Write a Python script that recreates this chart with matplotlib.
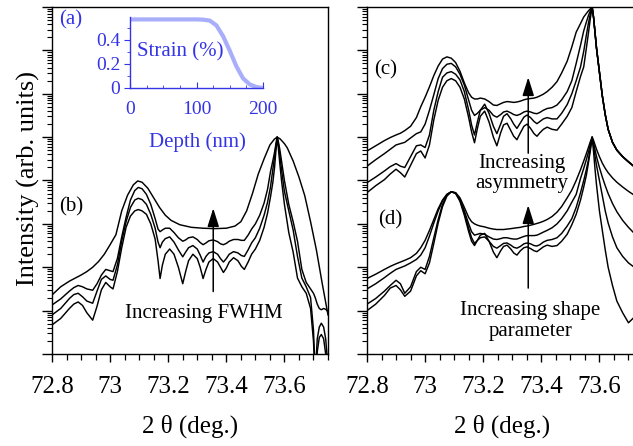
import numpy as np
import matplotlib
matplotlib.use('Agg')
import matplotlib.pyplot as plt
from matplotlib.ticker import FixedLocator, MultipleLocator, LogLocator, NullFormatter

plt.rcParams['font.family'] = ['Liberation Serif', 'DejaVu Serif']

# ---------------- data (log10 of intensity) ----------------
x_ticks = [72.8, 73.0, 73.2, 73.4, 73.6]
x_ticklabels = ['72.8', '73', '73.2', '73.4', '73.6']

# inset: strain profile
depth_nm = [0, 20, 40, 60, 80, 100, 110, 120, 130, 140, 150, 160, 170, 180, 190, 200]
strain_pct = [0.57, 0.57, 0.57, 0.57, 0.57, 0.57, 0.568, 0.56, 0.52, 0.43, 0.31, 0.18, 0.08, 0.03, 0.008, 0.0]

# panel (b): widest FWHM curve (smooth)
b1_x = [72.80, 72.83, 72.86, 72.88, 72.90, 72.92, 72.94, 72.96, 72.98, 73.00, 73.02, 73.04, 73.06,
        73.08, 73.095, 73.11, 73.13, 73.15, 73.17, 73.19, 73.21, 73.24, 73.28, 73.32, 73.36, 73.40,
        73.43, 73.45, 73.47, 73.49, 73.51, 73.53, 73.55, 73.565, 73.575, 73.585, 73.60, 73.61, 73.63,
        73.65, 73.67, 73.69, 73.71, 73.73, 73.75]
b1_log = [1.36, 1.55, 1.68, 1.75, 1.82, 1.90, 2.00, 2.13, 2.30, 2.52, 2.75, 3.30, 3.66,
          3.90, 3.99, 3.96, 3.82, 3.60, 3.38, 3.20, 3.08, 2.98, 2.92, 2.90, 2.89, 2.90,
          2.95, 3.05, 3.30, 3.70, 4.15, 4.50, 4.82, 4.95, 5.00, 4.96, 4.85, 4.75, 4.45,
          4.08, 3.65, 3.05, 2.40, 1.63, 0.90]

# panel (b): narrower FWHM curves on a shared grid
b_x = [72.80, 72.83, 72.86, 72.875, 72.89, 72.905, 72.92, 72.94, 72.955, 72.97, 72.985, 73.0, 73.01,
       73.025, 73.04, 73.055, 73.07, 73.085, 73.097, 73.11, 73.125, 73.14, 73.155, 73.165, 73.172,
       73.18, 73.19, 73.205, 73.22, 73.235, 73.25, 73.26, 73.27, 73.285, 73.30, 73.31, 73.32, 73.33,
       73.34, 73.355, 73.37, 73.38, 73.39, 73.40, 73.41, 73.425, 73.44, 73.452, 73.462, 73.475,
       73.487, 73.50, 73.515, 73.53, 73.542, 73.552, 73.56, 73.566, 73.571, 73.575, 73.579, 73.584,
       73.59, 73.60, 73.615, 73.63, 73.645, 73.66, 73.675, 73.69, 73.70, 73.706, 73.713, 73.72,
       73.727, 73.735, 73.742, 73.75]
b2_log = [1.13, 1.27, 1.45, 1.53, 1.58, 1.55, 1.50, 1.47, 1.62, 1.82, 1.95, 1.92, 1.90,
          2.20, 2.70, 3.15, 3.55, 3.77, 3.84, 3.81, 3.68, 3.45, 3.12, 2.88, 2.82,
          2.86, 2.90, 2.90, 2.80, 2.68, 2.60, 2.63, 2.68, 2.70, 2.64, 2.57, 2.52, 2.56,
          2.61, 2.63, 2.59, 2.54, 2.52, 2.55, 2.60, 2.64, 2.64, 2.62, 2.62, 2.74,
          2.88, 3.00, 3.20, 3.48, 3.80, 4.20, 4.45, 4.65, 4.85, 5.00, 4.90, 4.72,
          4.45, 4.00, 3.45, 3.05, 2.60, 1.95, 1.65, 1.50, 1.40, 1.30, 1.15, 1.05,
          1.02, 1.05, 1.03, 0.98]
b3_log = [0.90, 1.05, 1.28, 1.37, 1.40, 1.32, 1.22, 1.17, 1.45, 1.72, 1.80, 1.72, 1.70,
          2.05, 2.60, 3.05, 3.38, 3.55, 3.59, 3.56, 3.45, 3.22, 2.90, 2.58, 2.45,
          2.58, 2.66, 2.70, 2.58, 2.40, 2.24, 2.35, 2.45, 2.50, 2.42, 2.28, 2.12, 2.25,
          2.33, 2.36, 2.30, 2.20, 2.12, 2.20, 2.30, 2.36, 2.33, 2.27, 2.25, 2.40,
          2.56, 2.68, 2.90, 3.20, 3.50, 3.85, 4.25, 4.55, 4.80, 5.00, 4.85, 4.60,
          4.25, 3.75, 3.30, 2.86, 2.25, 1.75, 1.55, 1.30, 0.55, -0.50, 0.35, 0.62,
          0.71, 0.62, 0.35, -0.30]
b4_log = [0.67, 0.82, 1.05, 1.15, 1.20, 1.12, 0.95, 0.78, 1.10, 1.48, 1.65, 1.55, 1.50,
          1.90, 2.45, 2.92, 3.18, 3.30, 3.33, 3.30, 3.22, 3.00, 2.65, 2.15, 1.74,
          2.05, 2.30, 2.42, 2.30, 2.00, 1.62, 1.90, 2.15, 2.30, 2.20, 2.00, 1.74, 1.95,
          2.12, 2.20, 2.12, 2.00, 1.88, 1.98, 2.12, 2.22, 2.15, 2.02, 1.95, 2.12,
          2.30, 2.42, 2.62, 2.92, 3.25, 3.62, 3.95, 4.30, 4.70, 5.00, 4.75, 4.40,
          4.00, 3.45, 2.80, 2.35, 1.75, 1.55, 1.40, 1.05, 0.30, -0.60, 0.05, 0.38,
          0.45, 0.35, 0.00, -0.60]

# panels (c) and (d): shared grid
cd_x = [72.80, 72.83, 72.86, 72.88, 72.90, 72.915, 72.93, 72.95, 72.97, 72.985, 73.0, 73.015, 73.03,
        73.045, 73.06, 73.075, 73.09, 73.105, 73.12, 73.135, 73.15, 73.16, 73.17, 73.18, 73.19,
        73.205, 73.22, 73.235, 73.247, 73.26, 73.27, 73.282, 73.295, 73.305, 73.316, 73.328, 73.34,
        73.351, 73.363, 73.375, 73.385, 73.395, 73.407, 73.42, 73.437, 73.454, 73.47, 73.489, 73.505,
        73.52, 73.535, 73.546, 73.555, 73.562, 73.569, 73.575, 73.58, 73.585, 73.59, 73.60, 73.61,
        73.62, 73.63, 73.645, 73.66, 73.68, 73.70, 73.72, 73.75]
c_tail = [7.75, 7.40, 7.05, 6.50, 5.95, 5.52, 5.18, 4.88, 4.70, 4.55, 4.43, 4.32, 4.18]
c1_log = [4.68, 4.80, 4.92, 4.99, 5.05, 5.09, 5.15, 5.25, 5.45, 5.70, 5.92, 6.16, 6.42,
          6.64, 6.80, 6.85, 6.82, 6.72, 6.52, 6.25, 6.02, 5.92, 5.88, 5.88, 5.90,
          5.88, 5.82, 5.74, 5.73, 5.77, 5.80, 5.82, 5.81, 5.80, 5.81, 5.83, 5.86,
          5.88, 5.89, 5.90, 5.92, 5.95, 5.99, 6.05, 6.15, 6.28, 6.48, 6.75, 7.08,
          7.42, 7.62, 7.77, 7.85, 7.91, 7.96, 8.00] + c_tail
c2_log = [4.33, 4.48, 4.62, 4.72, 4.82, 4.85, 4.88, 4.98, 5.08, 5.12, 5.30, 5.62, 5.98,
          6.35, 6.58, 6.68, 6.70, 6.62, 6.45, 6.20, 5.85, 5.62, 5.50, 5.55, 5.62,
          5.68, 5.62, 5.50, 5.46, 5.52, 5.58, 5.60, 5.56, 5.52, 5.50, 5.53, 5.58,
          5.60, 5.58, 5.55, 5.54, 5.57, 5.62, 5.66, 5.68, 5.74, 5.86, 6.05, 6.30,
          6.70, 7.12, 7.45, 7.65, 7.80, 7.92, 8.00] + c_tail
c3_log = [3.95, 4.08, 4.22, 4.32, 4.39, 4.33, 4.30, 4.55, 4.80, 4.82, 4.76, 5.05, 5.62,
          6.05, 6.38, 6.48, 6.51, 6.45, 6.32, 6.05, 5.62, 5.28, 5.05, 5.35, 5.62,
          5.76, 5.55, 5.25, 5.08, 5.30, 5.48, 5.54, 5.42, 5.30, 5.20, 5.33, 5.46,
          5.51, 5.45, 5.36, 5.31, 5.36, 5.42, 5.45, 5.42, 5.42, 5.55, 5.75, 6.00,
          6.30, 6.62, 6.98, 7.35, 7.62, 7.85, 8.00] + c_tail
c4_log = [3.72, 3.88, 4.02, 4.15, 4.26, 4.18, 4.08, 4.35, 4.62, 4.68, 4.52, 4.82, 5.40,
          5.85, 6.15, 6.30, 6.35, 6.30, 6.15, 5.88, 5.45, 5.12, 4.87, 5.20, 5.48,
          5.60, 5.35, 5.00, 4.80, 5.10, 5.28, 5.32, 5.15, 5.02, 4.94, 5.10, 5.25,
          5.30, 5.20, 5.08, 5.02, 5.10, 5.18, 5.23, 5.18, 5.16, 5.30, 5.48, 5.68,
          6.05, 6.40, 6.62, 7.05, 7.39, 7.75, 8.00] + c_tail

d1_log = [1.74, 1.84, 1.95, 2.02, 2.08, 2.12, 2.16, 2.22, 2.32, 2.45, 2.62, 2.85, 3.10,
          3.35, 3.55, 3.68, 3.74, 3.72, 3.60, 3.38, 3.15, 3.05, 3.00, 2.97, 2.95,
          2.93, 2.90, 2.88, 2.87, 2.87, 2.87, 2.88, 2.89, 2.90, 2.91, 2.92, 2.94,
          2.95, 2.97, 2.99, 3.01, 3.03, 3.06, 3.10, 3.17, 3.27, 3.40, 3.60, 3.78,
          4.00, 4.25, 4.45, 4.62, 4.76, 4.90, 5.00, 4.92, 4.82, 4.72, 4.55, 4.40,
          4.28, 4.18, 4.06, 3.96, 3.85, 3.75, 3.66, 3.53]
d2_log = [1.50, 1.62, 1.76, 1.86, 1.95, 1.99, 2.03, 2.10, 2.18, 2.28, 2.45, 2.72, 3.02,
          3.30, 3.53, 3.68, 3.74, 3.71, 3.56, 3.30, 3.00, 2.82, 2.74, 2.76, 2.78,
          2.76, 2.70, 2.65, 2.64, 2.66, 2.68, 2.68, 2.66, 2.65, 2.65, 2.68, 2.71,
          2.73, 2.73, 2.73, 2.74, 2.77, 2.81, 2.85, 2.91, 3.00, 3.12, 3.30, 3.50,
          3.68, 4.05, 4.28, 4.48, 4.65, 4.84, 5.00, 4.85, 4.70, 4.55, 4.30, 4.08,
          3.88, 3.70, 3.47, 3.28, 3.08, 2.92, 2.78, 2.60]
d3_log = [1.15, 1.28, 1.45, 1.58, 1.70, 1.62, 1.40, 1.55, 1.90, 2.00, 1.95, 2.25, 2.68,
          3.10, 3.45, 3.66, 3.74, 3.71, 3.55, 3.25, 2.90, 2.68, 2.55, 2.62, 2.68,
          2.70, 2.60, 2.48, 2.44, 2.50, 2.55, 2.56, 2.51, 2.46, 2.44, 2.48, 2.54,
          2.56, 2.54, 2.50, 2.49, 2.52, 2.58, 2.62, 2.64, 2.68, 2.78, 2.95, 3.12,
          3.38, 3.72, 4.00, 4.25, 4.47, 4.75, 5.00, 4.78, 4.55, 4.35, 4.00, 3.65,
          3.30, 3.02, 2.70, 2.45, 2.25, 2.10, 2.00, 1.88]
d4_log = [1.00, 1.15, 1.35, 1.52, 1.58, 1.48, 1.33, 1.45, 1.80, 1.92, 1.85, 2.10, 2.55,
          3.02, 3.40, 3.64, 3.74, 3.70, 3.52, 3.20, 2.82, 2.60, 2.50, 2.62, 2.74,
          2.78, 2.60, 2.35, 2.22, 2.38, 2.48, 2.51, 2.42, 2.33, 2.28, 2.38, 2.45,
          2.47, 2.43, 2.38, 2.36, 2.41, 2.47, 2.51, 2.48, 2.50, 2.60, 2.76, 2.98,
          3.22, 3.55, 3.85, 4.12, 4.40, 4.70, 5.00, 4.65, 4.25, 3.90, 3.30, 2.85,
          2.40, 2.00, 1.58, 1.22, 0.95, 0.72, 0.85, 0.90]

# ---------------- figure ----------------
BLUE = '#3434e6'
LIGHTBLUE = '#a9aefa'
LW = 1.05

fig = plt.figure(figsize=(6.33, 4.46), dpi=100)
W, H = 633.0, 446.0
axL = fig.add_axes([52 / W, 92 / H, 276 / W, 347 / H])
axR = fig.add_axes([367 / W, 92 / H, 276 / W, 347 / H])

for ax in (axL, axR):
    ax.set_yscale('log')
    ax.set_xlim(72.8, 73.75)
    ax.set_ylim(1, 1e8)
    ax.xaxis.set_major_locator(FixedLocator(x_ticks))
    ax.set_xticklabels(x_ticklabels)
    ax.xaxis.set_minor_locator(MultipleLocator(0.05))
    ax.yaxis.set_major_locator(LogLocator(base=10, numticks=20))
    ax.yaxis.set_minor_locator(LogLocator(base=10, subs=np.arange(2, 10), numticks=20))
    ax.yaxis.set_major_formatter(NullFormatter())
    ax.yaxis.set_minor_formatter(NullFormatter())
    ax.tick_params(axis='both', which='both', direction='out', top=False, right=False)
    ax.tick_params(axis='y', which='major', length=7, width=1.0)
    ax.tick_params(axis='y', which='minor', length=3.5, width=0.8)
    ax.tick_params(axis='x', which='major', length=6, width=1.0, labelsize=18, pad=10)
    ax.tick_params(axis='x', which='minor', length=4, width=0.9)
    for s in ax.spines.values():
        s.set_linewidth(1.0)

def L(v):
    return 10 ** np.asarray(v, dtype=float)

# panel (b)
axL.plot(b1_x, L(b1_log), color='k', lw=LW)
for ys in (b2_log, b3_log, b4_log):
    axL.plot(b_x, L(ys), color='k', lw=LW)

# panels (c) and (d)
for ys in (c1_log, c2_log, c3_log, c4_log, d1_log, d2_log, d3_log, d4_log):
    axR.plot(cd_x, L(ys), color='k', lw=LW)

arrow = dict(arrowstyle='-|>,head_length=0.7,head_width=0.22', color='k', lw=1.1,
             mutation_scale=16, shrinkA=0, shrinkB=0)
axL.annotate('', xy=(73.355, 10 ** 3.36), xytext=(73.355, 10 ** 1.44), arrowprops=arrow)
axR.annotate('', xy=(73.355, 10 ** 6.38), xytext=(73.355, 10 ** 4.63), arrowprops=arrow)
axR.annotate('', xy=(73.355, 10 ** 3.43), xytext=(73.355, 10 ** 1.52), arrowprops=arrow)

axL.text(73.322, 10 ** 0.94, 'Increasing FWHM', ha='center', va='center', fontsize=15)
axR.text(73.333, 10 ** 4.16, 'Increasing\nasymmetry', ha='center', va='center',
         fontsize=15, linespacing=1.1)
axR.text(73.362, 10 ** 0.77, 'Increasing shape\nparameter', ha='center', va='center',
         fontsize=15, linespacing=1.15)

axL.text(0.069, 0.9625, '(a)', transform=axL.transAxes, ha='center', va='center',
         fontsize=15, color=BLUE)
axL.text(0.070, 0.4236, '(b)', transform=axL.transAxes, ha='center', va='center', fontsize=15)
axR.text(0.067, 0.818, '(c)', transform=axR.transAxes, ha='center', va='center', fontsize=15)
axR.text(0.083, 0.386, '(d)', transform=axR.transAxes, ha='center', va='center', fontsize=15)

fig.text(28 / W, 1 - 178 / H, 'Intensity (arb. units)', rotation=90, ha='center',
         va='center', fontsize=19)
fig.text(190 / W, 1 - 426 / H, '2 θ (deg.)', ha='center', va='center', fontsize=18)
fig.text(502 / W, 1 - 426 / H, '2 θ (deg.)', ha='center', va='center', fontsize=18)

# inset (a)
axI = fig.add_axes([130 / W, (H - 88) / H, 133 / W, 71 / H])
axI.patch.set_alpha(0)
axI.plot(depth_nm, strain_pct, color=LIGHTBLUE, lw=3, solid_capstyle='butt')
axI.set_xlim(0, 200)
axI.set_ylim(0, 0.59)
axI.spines['top'].set_visible(False)
axI.spines['right'].set_visible(False)
for s in ('left', 'bottom'):
    axI.spines[s].set_color(BLUE)
    axI.spines[s].set_linewidth(1.0)
axI.set_xticks([0, 100, 200])
axI.set_xticks(np.arange(0, 201, 25), minor=True)
axI.set_yticks([0, 0.2, 0.4])
axI.set_yticklabels(['0', '0.2', '0.4'])
axI.set_yticks([0.1, 0.3, 0.5], minor=True)
axI.tick_params(axis='x', which='major', direction='in', length=4, color=BLUE,
                labelcolor=BLUE, labelsize=14, pad=9)
axI.tick_params(axis='x', which='minor', direction='in', length=2.5, color=BLUE)
axI.tick_params(axis='y', which='major', direction='out', length=4, color=BLUE,
                labelcolor=BLUE, labelsize=14, pad=3)
axI.tick_params(axis='y', which='minor', direction='out', length=2.5, color=BLUE)
fig.text(197 / W, 1 - 142 / H, 'Depth (nm)', ha='center', va='center', fontsize=15, color=BLUE)
fig.text(137 / W, 1 - 52 / H, 'Strain (%)', ha='left', va='center', fontsize=15, color=BLUE)

fig.savefig('out.png', dpi=100)
